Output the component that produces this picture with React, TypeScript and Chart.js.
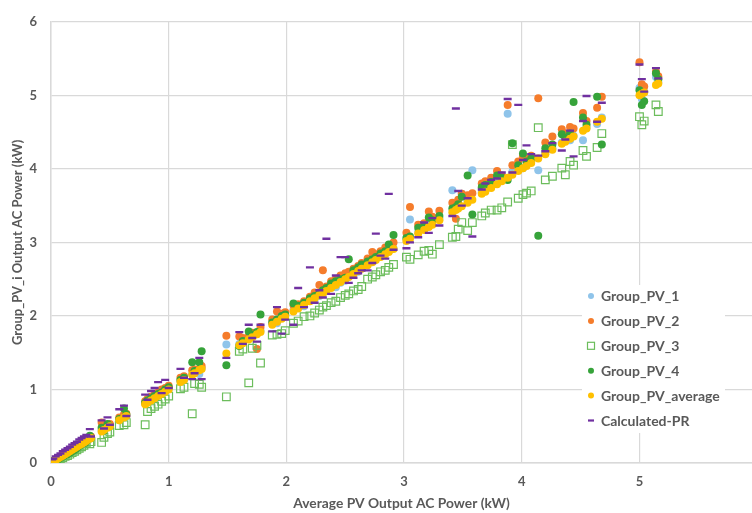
import React, { useEffect, useRef } from "react";
import { Chart, registerables } from "chart.js";

Chart.register(...registerables);

// X values: average PV output AC power (kW)
const avgPower = [
  0.01, 0.02, 0.04, 0.06, 0.08, 0.10, 0.12, 0.14, 0.16, 0.18, 0.20, 0.22, 0.24, 0.26, 0.28, 0.30, 0.33, 0.34,
  0.43, 0.45, 0.48, 0.50, 0.58, 0.62, 0.64,
  0.80, 0.82, 0.85, 0.88, 0.91, 0.94, 0.97, 1.00,
  1.10, 1.13, 1.20, 1.22, 1.26, 1.28,
  1.49,
  1.60, 1.63, 1.68, 1.71, 1.75, 1.78,
  1.88, 1.92, 1.96, 1.99,
  2.06, 2.10, 2.15, 2.20, 2.24, 2.28, 2.31, 2.34,
  2.38, 2.42, 2.46, 2.50, 2.53, 2.57, 2.61, 2.64,
  2.69, 2.73, 2.76, 2.80, 2.84, 2.87, 2.91,
  3.02, 3.05, 3.12, 3.17, 3.21, 3.24, 3.30,
  3.41, 3.44, 3.46, 3.49, 3.54, 3.58,
  3.66, 3.69, 3.74, 3.79, 3.83, 3.88, 3.92,
  3.97, 4.01, 4.04, 4.08, 4.14,
  4.20, 4.26, 4.34, 4.37, 4.41, 4.44, 4.52, 4.55, 4.64, 4.68,
  5.00, 5.02, 5.04, 5.14, 5.16,
];

const groupPV1 = [
  0.01, 0.02, 0.04, 0.06, 0.08, 0.10, 0.12, 0.14, 0.16, 0.18, 0.20, 0.22, 0.24, 0.26, 0.28, 0.30, 0.33, 0.35,
  0.45, 0.47, 0.49, 0.51, 0.58, 0.63, 0.64,
  0.81, 0.83, 0.86, 0.88, 0.92, 0.95, 0.98, 1.01,
  1.12, 1.14, 1.21, 1.23, 1.21, 1.29,
  1.61,
  1.62, 1.64, 1.69, 1.73, 1.76, 1.80,
  1.90, 1.90, 1.98, 2.00,
  2.08, 2.12, 2.13, 2.22, 2.23, 2.27, 2.30, 2.36,
  2.40, 2.39, 2.45, 2.48, 2.55, 2.58, 2.60, 2.65,
  2.70, 2.74, 2.78, 2.82, 2.86, 2.88, 2.92,
  3.04, 3.31, 3.14, 3.18, 3.24, 3.25, 3.32,
  3.71, 3.45, 3.48, 3.66, 3.56, 3.98,
  3.68, 3.70, 3.76, 3.80, 3.85, 4.75, 3.96,
  4.00, 4.01, 4.06, 4.10, 3.98,
  4.22, 4.28, 4.36, 4.38, 4.39, 4.45, 4.39, 4.56, 4.61, 4.70,
  5.10, 4.95, 5.05, 5.25, 5.18,
];

const groupPV2 = [
  0.02, 0.03, 0.05, 0.07, 0.09, 0.11, 0.13, 0.15, 0.17, 0.19, 0.21, 0.23, 0.25, 0.27, 0.29, 0.31, 0.34, 0.36,
  0.55, 0.51, 0.52, 0.53, 0.62, 0.66, 0.67,
  0.84, 0.87, 0.90, 0.93, 0.96, 1.00, 1.02, 1.05,
  1.16, 1.18, 1.26, 1.27, 1.28, 1.32,
  1.73,
  1.72, 1.70, 1.72, 1.77, 1.55, 1.85,
  1.95, 2.06, 2.03, 2.05,
  2.15, 2.16, 2.20, 2.26, 2.32, 2.42, 2.62, 2.40,
  2.47, 2.50, 2.55, 2.58, 2.60, 2.64, 2.68, 2.72,
  2.78, 2.87, 2.84, 2.88, 2.93, 2.96, 3.00,
  3.13, 3.48, 3.24, 3.26, 3.42, 3.35, 3.43,
  3.54, 3.32, 3.58, 3.66, 3.64, 3.67,
  3.80, 3.83, 3.88, 3.97, 3.91, 4.87, 4.05,
  4.10, 4.17, 4.14, 4.18, 4.96,
  4.36, 4.44, 4.54, 4.48, 4.57, 4.55, 4.76, 4.65, 4.83, 4.98,
  5.45, 5.15, 5.12, 5.32, 5.26,
];

const groupPV3 = [
  0.00, 0.01, 0.02, 0.04, 0.06, 0.07, 0.09, 0.10, 0.12, 0.14, 0.16, 0.18, 0.20, 0.22, 0.24, 0.27, 0.26, 0.29,
  0.28, 0.35, 0.40, 0.42, 0.51, 0.52, 0.55,
  0.52, 0.70, 0.74, 0.77, 0.80, 0.84, 0.87, 0.91,
  1.01, 1.03, 0.67, 1.08, 1.07, 1.03,
  0.90,
  1.52, 1.55, 1.09, 1.56, 1.60, 1.36,
  1.74, 1.75, 1.76, 1.80,
  1.90, 1.93, 1.99, 2.00, 2.04, 2.08, 2.12, 2.14,
  2.18, 2.20, 2.25, 2.28, 2.30, 2.34, 2.36, 2.40,
  2.50, 2.53, 2.56, 2.60, 2.62, 2.66, 2.70,
  2.80, 2.77, 2.83, 2.88, 2.89, 2.84, 2.97,
  3.07, 3.08, 3.18, 3.27, 3.16, 3.27,
  3.36, 3.40, 3.44, 3.44, 3.47, 3.55, 4.33,
  3.60, 3.65, 3.67, 3.70, 4.56,
  3.85, 3.90, 4.01, 3.92, 4.10, 4.05, 4.25, 4.17, 4.29, 4.48,
  4.71, 4.60, 4.65, 4.87, 4.78,
];

const groupPV4 = [
  0.01, 0.02, 0.03, 0.05, 0.07, 0.09, 0.11, 0.12, 0.14, 0.16, 0.18, 0.20, 0.23, 0.25, 0.27, 0.29, 0.37, 0.34,
  0.48, 0.44, 0.53, 0.50, 0.60, 0.74, 0.66,
  0.82, 0.85, 0.88, 0.91, 0.94, 0.96, 1.00, 1.03,
  1.13, 1.16, 1.37, 1.25, 1.37, 1.52,
  1.33,
  1.59, 1.66, 1.79, 1.74, 1.78, 2.02,
  1.91, 1.95, 2.00, 2.02,
  2.17, 2.14, 2.18, 2.24, 2.27, 2.30, 2.35, 2.38,
  2.44, 2.47, 2.50, 2.52, 2.77, 2.62, 2.66, 2.70,
  2.74, 2.77, 2.80, 2.85, 2.88, 2.97, 3.10,
  3.06, 3.08, 3.20, 3.22, 3.34, 3.30, 3.36,
  3.46, 3.48, 3.52, 3.62, 3.91, 3.38,
  3.75, 3.78, 3.82, 3.91, 3.88, 3.85, 4.35,
  4.05, 4.21, 4.10, 4.14, 3.09,
  4.28, 4.33, 4.47, 4.42, 4.48, 4.91, 4.70, 4.60, 4.98, 4.33,
  5.07, 4.87, 4.92, 5.30, 5.22,
];

const groupPVAverage = avgPower;

const calculatedPR = [
  0.05, 0.06, 0.09, 0.11, 0.13, 0.16, 0.18, 0.20, 0.22, 0.25, 0.27, 0.29, 0.32, 0.34, 0.36, 0.38, 0.46, 0.36,
  0.58, 0.47, 0.62, 0.52, 0.73, 0.78, 0.64,
  0.93, 0.86, 0.98, 1.02, 1.10, 0.95, 1.13, 1.02,
  1.28, 1.16, 1.14, 1.22, 1.43, 1.14,
  1.43,
  1.78, 1.62, 1.88, 1.70, 1.65, 1.88,
  1.79, 2.12, 1.76, 1.95,
  1.88, 2.38, 2.12, 2.66, 2.18, 2.35, 2.25, 3.05,
  2.30, 2.55, 2.80, 2.80, 2.45, 2.52, 2.58, 2.62,
  2.62, 2.72, 3.12, 2.82, 2.78, 3.66, 2.90,
  2.92, 3.00, 3.07, 3.27, 3.13, 3.33, 3.23,
  3.36, 4.82, 3.70, 3.50, 3.60, 3.08,
  3.72, 3.80, 3.85, 3.87, 3.95, 4.95, 3.95,
  4.87, 4.12, 4.32, 4.20, 4.18,
  4.24, 4.35, 4.25, 4.40, 4.52, 4.17, 4.65, 4.99, 4.64, 4.90,
  5.42, 5.22, 5.05, 5.37, 5.23,
];

const seriesNames = ["Group_PV_1", "Group_PV_2", "Group_PV_3", "Group_PV_4", "Group_PV_average", "Calculated-PR"];
const xTitle = "Average PV Output AC Power (kW)";
const yTitle = "Group_PV_i Output AC Power (kW)";

const FONT = "Lato, 'Open Sans', sans-serif";
const TEXT = "#595959";
const GRID = "#d9d9d9";

const toPoints = (ys: number[]) => avgPower.map((x, i) => ({ x, y: ys[i] }));

const keepIntegerTicks = (scale: any) => {
  scale.ticks = scale.ticks.filter(
    (t: any) => Math.abs(t.value - Math.round(t.value)) < 1e-9 && t.value <= scale.max + 1e-9
  );
};

const legendPlugin = {
  id: "boxLegend",
  afterDraw(chart: any) {
    const { ctx, chartArea } = chart;
    const left = chartArea.right - 170;
    const top = chartArea.bottom - 178;
    ctx.save();
    ctx.fillStyle = "#ffffff";
    ctx.fillRect(left, top, 143, 148);
    const datasets = chart.data.datasets;
    datasets.forEach((ds: any, i: number) => {
      const cy = top + 11 + i * 24.9;
      const cx = left + 9;
      ctx.beginPath();
      if (ds.pointStyle === "rect") {
        ctx.strokeStyle = ds.borderColor;
        ctx.lineWidth = 1.2;
        ctx.strokeRect(cx - 3.5, cy - 3.5, 7, 7);
      } else if (ds.pointStyle === "line") {
        ctx.strokeStyle = ds.borderColor;
        ctx.lineWidth = 2.2;
        ctx.moveTo(cx - 3, cy);
        ctx.lineTo(cx + 3, cy);
        ctx.stroke();
      } else {
        ctx.fillStyle = ds.backgroundColor;
        ctx.arc(cx, cy, 3, 0, Math.PI * 2);
        ctx.fill();
      }
      ctx.fillStyle = TEXT;
      ctx.font = `bold 14px ${FONT}`;
      ctx.textBaseline = "middle";
      ctx.textAlign = "left";
      ctx.fillText(ds.label, left + 19, cy + 0.5);
    });
    ctx.restore();
  },
};

export default function App() {
  const canvasRef = useRef<HTMLCanvasElement | null>(null);

  useEffect(() => {
    document.documentElement.style.overflow = "hidden";
    document.body.style.margin = "0";
    document.body.style.overflow = "hidden";
    const canvas = canvasRef.current;
    if (!canvas) return;

    const circle = (label: string, data: number[], color: string, order: number) => ({
      label,
      data: toPoints(data),
      pointStyle: "circle",
      pointRadius: 4,
      pointBorderWidth: 0,
      backgroundColor: color,
      borderColor: color,
      order,
    });

    const chart = new Chart(canvas, {
      type: "scatter",
      data: {
        datasets: [
          circle(seriesNames[0], groupPV1, "#8fc4ea", 6),
          circle(seriesNames[1], groupPV2, "#f57c2b", 5),
          {
            label: seriesNames[2],
            data: toPoints(groupPV3),
            pointStyle: "rect",
            pointRadius: 5.4,
            pointBorderWidth: 1.2,
            backgroundColor: "rgba(255,255,255,0)",
            borderColor: "#6cbd5c",
            order: 4,
          },
          circle(seriesNames[3], groupPV4, "#36a33a", 3),
          circle(seriesNames[4], groupPVAverage, "#ffc000", 2),
          {
            label: seriesNames[5],
            data: toPoints(calculatedPR),
            pointStyle: "line",
            pointRadius: 4,
            pointBorderWidth: 2.4,
            backgroundColor: "#7030a0",
            borderColor: "#7030a0",
            order: 1,
          },
        ] as any,
      },
      options: {
        animation: false,
        responsive: false,
        maintainAspectRatio: false,
        layout: { autoPadding: false, padding: { left: 0, right: 0, top: 17, bottom: 0 } },
        plugins: {
          legend: { display: false },
          tooltip: { enabled: false },
        },
        scales: {
          x: {
            type: "linear",
            min: 0,
            max: 5.956,
            afterBuildTicks: keepIntegerTicks,
            ticks: {
              stepSize: 1,
              includeBounds: false,
              color: TEXT,
              font: { family: FONT, size: 13, weight: "bold" },
              padding: 11,
            },
            grid: {
              color: (c: any) => (c.tick && c.tick.value > 5.5 ? "rgba(0,0,0,0)" : GRID),
              lineWidth: 1.2,
              drawTicks: false,
            },
            border: { display: true, color: GRID, width: 1.5 },
            title: {
              display: true,
              text: xTitle,
              color: TEXT,
              font: { family: FONT, size: 13.8, weight: "bold" },
              padding: { top: 0, bottom: 1 },
            },
            afterFit: (scale: any) => {
              scale.height = 50;
              scale.paddingRight = 0;
              scale.paddingLeft = 0;
            },
          },
          y: {
            type: "linear",
            min: 0,
            max: 6,
            afterBuildTicks: keepIntegerTicks,
            ticks: {
              stepSize: 1,
              color: TEXT,
              font: { family: FONT, size: 13, weight: "bold" },
              padding: 14,
            },
            grid: { color: GRID, lineWidth: 1.2, drawTicks: false },
            border: { display: true, color: GRID, width: 1.5 },
            title: {
              display: true,
              text: yTitle,
              color: TEXT,
              font: { family: FONT, size: 13, weight: "bold" },
              padding: { top: 10, bottom: 0 },
            },
            afterFit: (scale: any) => {
              scale.width = 51;
            },
          },
        },
      } as any,
      plugins: [legendPlugin],
    });

    return () => chart.destroy();
  }, []);

  return (
    <div style={{ position: "fixed", left: 0, top: 0, width: 752, height: 513, overflow: "hidden" }}>
      <canvas ref={canvasRef} width={752} height={513} style={{ display: "block", width: 752, height: 513 }} />
    </div>
  );
}
